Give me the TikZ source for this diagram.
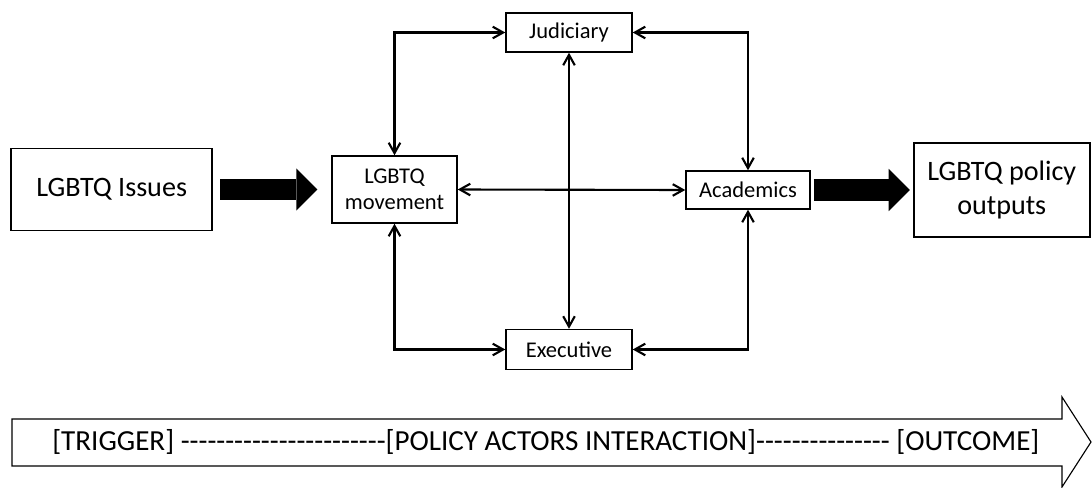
\documentclass[tikz,border=0pt]{standalone}
\usepackage{fontspec}
\setmainfont{Carlito}[Ligatures=TeXOff]
\usetikzlibrary{positioning,arrows.meta}

\begin{document}
\begin{tikzpicture}[
  x=0.025cm, y=-0.025cm,
  actor/.style = {
    draw,
    line width=1pt,
    inner sep=0pt,
    align=center,
    font=\fontsize{16}{18.5}\selectfont,
  },
  bigbox/.style = {
    draw,
    line width=1.4pt,
    inner sep=0pt,
    align=center,
    font=\fontsize{20}{23.5}\selectfont,
  },
  link/.style = {
    line width=1.5pt,
    {Straight Barb[length=2.6mm,width=2.9mm]}-{Straight Barb[length=2.6mm,width=2.9mm]},
  },
  flow/.style = {
    line width=15.5pt,
    -{Triangle[length=5.25mm,width=10.5mm,line width=0pt]},
  },
]
  \useasboundingbox (0,0) rectangle (1092,487);

  % policy actors
  \node[actor,minimum width=3.125cm,minimum height=1.675cm] (mov) at (394.5,189.5) {LGBTQ\\movement};
  \node[actor,minimum width=3.1cm,minimum height=0.95cm] (acad) at (748,190) {Academics};
  \node[actor,minimum width=3.15cm,minimum height=0.975cm] (jud) at (569,32.5) {Judiciary};
  \node[actor,minimum width=3.15cm,minimum height=1cm] (exec) [below=6.9cm of jud] {Executive};

  % trigger and outcome
  \node[bigbox,minimum width=5.025cm,minimum height=2.05cm] (issues) [left=2.95cm of mov] {LGBTQ Issues};
  \node[bigbox,minimum width=4.4cm,minimum height=2.35cm] (outp) [right=2.55cm of acad] {LGBTQ policy\\outputs};

  % interactions
  \draw[link] (mov.north) |- (jud.west);
  \draw[link] (jud.east) -| (acad.north);
  \draw[link] (mov.south) |- (exec.west);
  \draw[link] (exec.east) -| (acad.south);
  \draw[link] (mov.east) -- (acad.west);
  \draw[link] (jud.south) -- (exec.north);

  \draw[flow,shorten <=1.75mm,shorten >=3.5mm] (issues.east) -- (mov.west);
  \draw[flow,shorten <=0.75mm,shorten >=0.75mm] (acad.east) -- (outp.west);

  % time line
  \draw[line width=0.8pt] (12,419) -- (1062,419) -- (1062,397) -- (1091,442)
    -- (1062,487) -- (1062,466) -- (12,466) -- cycle;
  \node[font=\fontsize{20.7}{24}\selectfont,anchor=west,inner sep=0pt] (phases) at (52,442)
    {[TRIGGER] -----------------------[POLICY ACTORS INTERACTION]--------------- [OUTCOME]};
\end{tikzpicture}
\end{document}
